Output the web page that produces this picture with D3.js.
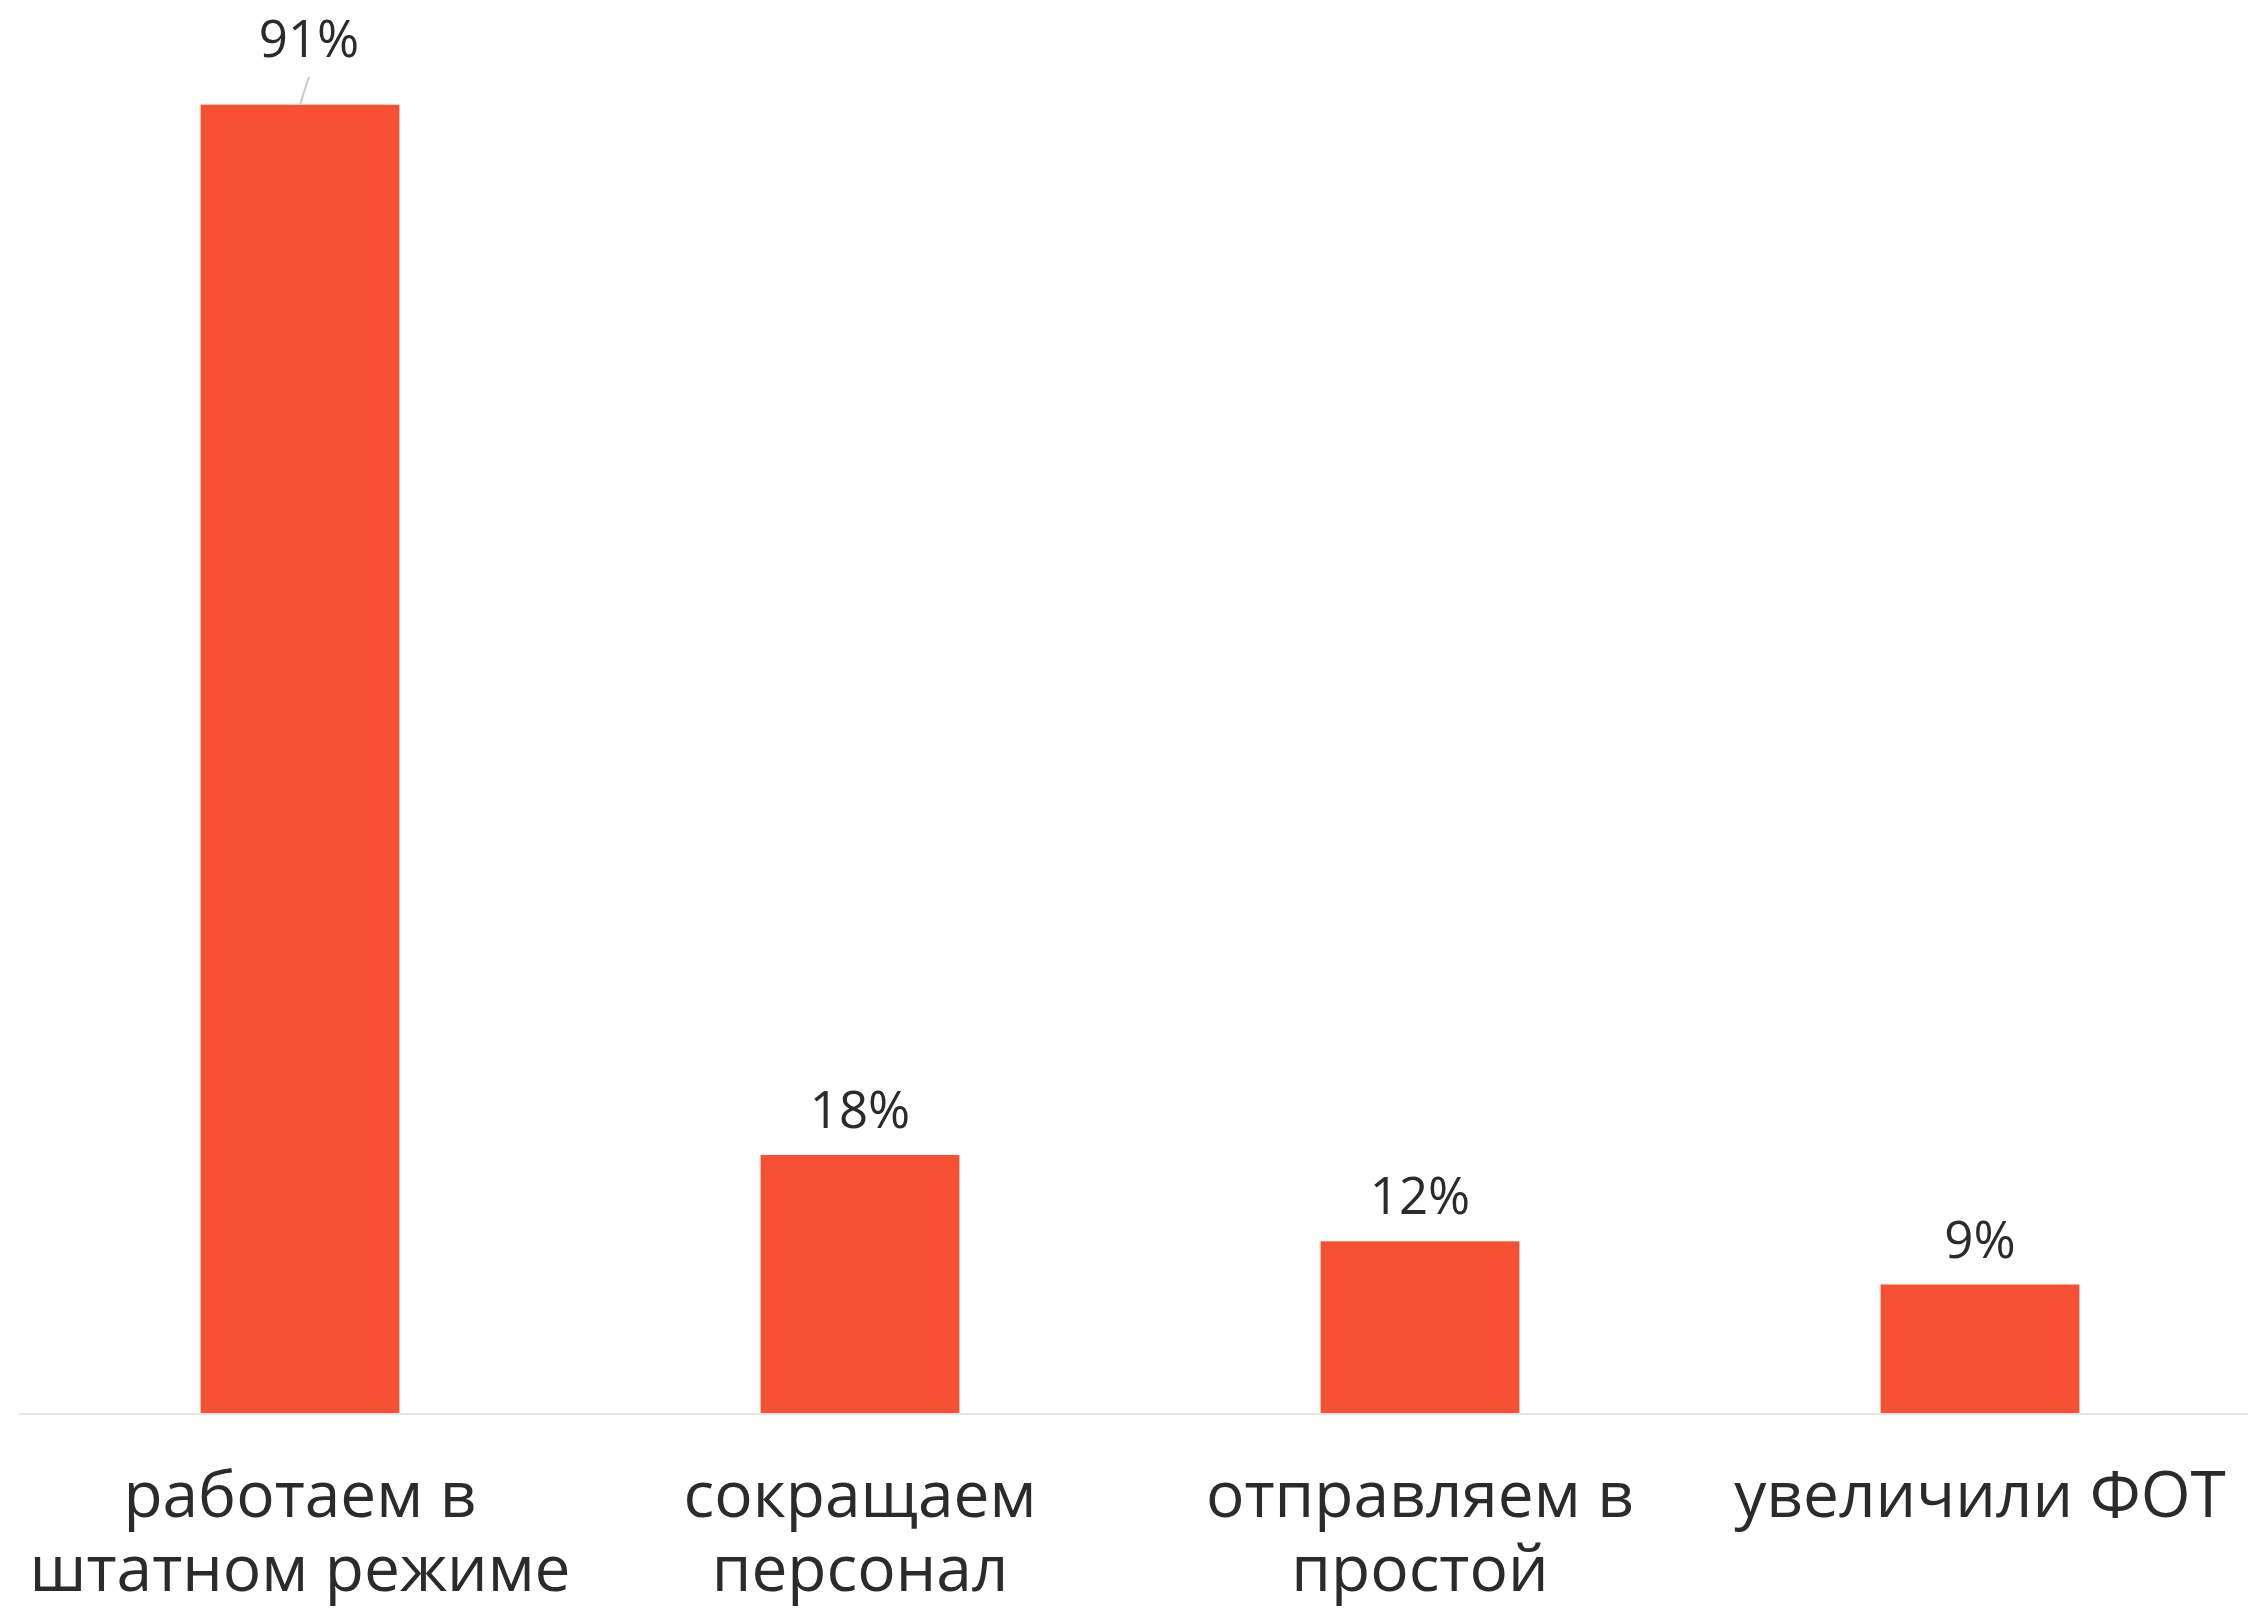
<!DOCTYPE html>
<html>
<head>
<meta charset="utf-8">
<script src="https://cdn.jsdelivr.net/npm/d3@7"></script>
<style>
  html, body { margin: 0; padding: 0; background: #fff; }
  svg text { font-family: "Open Sans", sans-serif; fill: #2b2b2b; }
</style>
</head>
<body>
<svg id="chart"></svg>
<script>
// Data
const categories = ["работаем в штатном режиме", "сокращаем персонал", "отправляем в простой", "увеличили ФОТ"];
const categoryLines = [
  ["работаем в", "штатном режиме"],
  ["сокращаем", "персонал"],
  ["отправляем в", "простой"],
  ["увеличили ФОТ"]
];
const values = [91, 18, 12, 9];
const valueLabels = ["91%", "18%", "12%", "9%"];

const width = 2248;
const height = 1608;
const baseline = 1414;
const topY = 104.7;

const svg = d3.select("#chart")
  .attr("width", width)
  .attr("height", height);

const data = categories.map((c, i) => ({
  category: c,
  lines: categoryLines[i],
  value: values[i],
  label: valueLabels[i]
}));

// Scales
const xScale = d3.scaleBand()
  .domain(categories)
  .range([20, 2260])
  .paddingInner(0.645)
  .paddingOuter(0.3225);

const yScale = d3.scaleLinear()
  .domain([0, d3.max(values)])
  .range([baseline, topY]);

// Bars
svg.selectAll(".bar")
  .data(data)
  .enter()
  .append("rect")
  .attr("class", "bar")
  .attr("x", d => xScale(d.category))
  .attr("y", d => yScale(d.value))
  .attr("width", xScale.bandwidth())
  .attr("height", d => baseline - yScale(d.value))
  .attr("fill", "#f64f31");

// Baseline (x axis)
const xAxis = d3.axisBottom(xScale).tickSize(0).tickFormat("");
const axisG = svg.append("g")
  .attr("transform", `translate(0, ${baseline})`)
  .call(xAxis);
axisG.select(".domain")
  .attr("d", `M19,0H${width}`)
  .attr("stroke", "#e6e6e6")
  .attr("stroke-width", 2);

// Category labels
const catLabels = svg.selectAll(".cat-label")
  .data(data)
  .enter()
  .append("text")
  .attr("class", "cat-label")
  .attr("text-anchor", "middle")
  .style("font-size", "64px")
  .attr("x", d => xScale(d.category) + xScale.bandwidth() / 2)
  .attr("y", 1517);

catLabels.selectAll("tspan")
  .data(d => d.lines.map(l => ({ line: l, x: xScale(d.category) + xScale.bandwidth() / 2 })))
  .enter()
  .append("tspan")
  .attr("x", d => d.x)
  .attr("dy", (d, i) => i === 0 ? 0 : 74)
  .text(d => d.line);

// Value labels (the tallest one is lifted with a leader line)
const isLifted = d => d.value === d3.max(values);

svg.selectAll(".leader")
  .data(data.filter(isLifted))
  .enter()
  .append("line")
  .attr("class", "leader")
  .attr("x1", d => xScale(d.category) + xScale.bandwidth() / 2)
  .attr("y1", d => yScale(d.value))
  .attr("x2", d => xScale(d.category) + xScale.bandwidth() / 2 + 9)
  .attr("y2", d => yScale(d.value) - 28)
  .attr("stroke", "#c8c8c8")
  .attr("stroke-width", 2);

svg.selectAll(".value-label")
  .data(data)
  .enter()
  .append("text")
  .attr("class", "value-label")
  .attr("text-anchor", "middle")
  .style("font-size", "51px")
  .attr("x", d => xScale(d.category) + xScale.bandwidth() / 2 + (isLifted(d) ? 9 : 0))
  .attr("y", d => yScale(d.value) - (isLifted(d) ? 48 : 27))
  .text(d => d.label);
</script>
</body>
</html>
